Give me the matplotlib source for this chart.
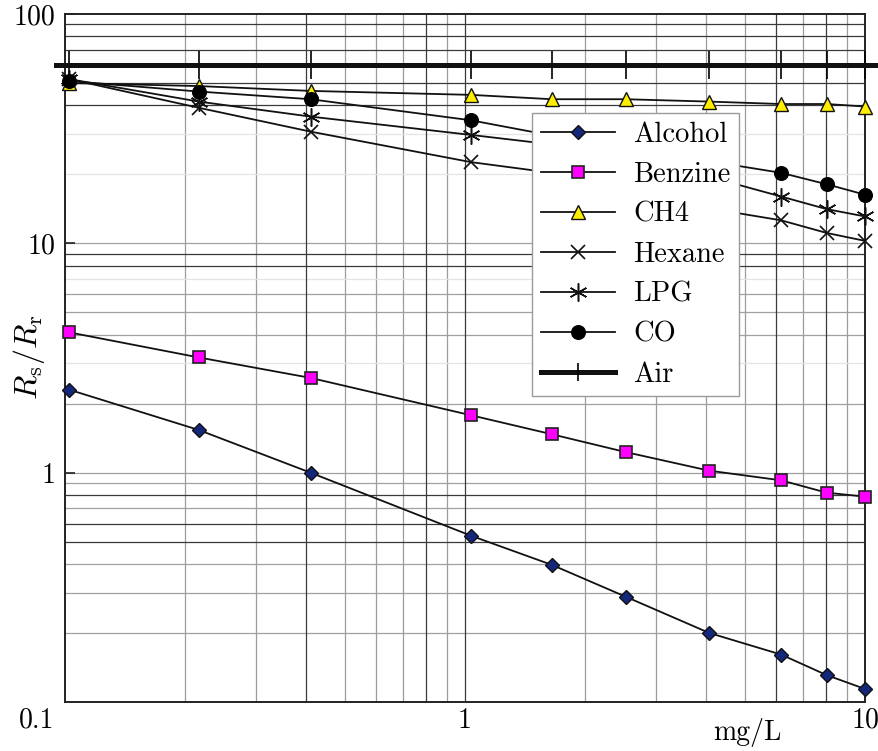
import matplotlib
matplotlib.use("Agg")
import matplotlib.pyplot as plt
import matplotlib.transforms as mtransforms

plt.rcParams["font.family"] = ["cmr10", "DejaVu Serif"]
plt.rcParams["mathtext.fontset"] = "cm"
plt.rcParams["axes.unicode_minus"] = False
plt.rcParams["axes.formatter.use_mathtext"] = True

# Gas concentration (mg/L) and sensor resistance ratio Rs/Rr per gas
conc = [0.1025, 0.216, 0.411, 1.035, 1.65, 2.52, 4.08, 6.17, 8.02, 10.0]
alcohol = [2.30, 1.535, 1.00, 0.531, 0.396, 0.288, 0.200, 0.161, 0.131, 0.114]
benzine = [4.09, 3.18, 2.59, 1.78, 1.47, 1.23, 1.02, 0.926, 0.818, 0.786]
ch4 = [50.0, 48.5, 46.2, 44.4, 42.5, 42.5, 41.5, 40.5, 40.5, 39.5]
hexane = [52.0, 39.0, 30.7, 22.6, 20.3, 17.5, 14.2, 12.6, 11.1, 10.25]
lpg = [52.0, 41.5, 35.7, 29.7, 27.0, 23.5, 19.5, 16.0, 14.1, 13.1]
co = [51.0, 45.9, 42.5, 34.4, 29.5, 26.0, 22.8, 20.3, 18.1, 16.3]
air = [60.0, 60.0, 60.0, 60.0, 60.0, 60.0, 60.0, 60.0, 60.0, 60.0]

series_names = ["Alcohol", "Benzine", "CH4", "Hexane", "LPG", "CO", "Air"]
series_values = [alcohol, benzine, ch4, hexane, lpg, co, air]

x_ticks = [0.1, 1, 10]
x_ticklabels = ["0.1", "1", "10"]
y_ticks = [1, 10, 100]
y_ticklabels = ["1", "10", "100"]

# log-paper grid
xgrid_dark = [0.4, 0.8, 1, 6, 8]
xgrid_grey = [0.2, 0.3, 0.5, 0.6, 0.7, 0.9, 2, 3, 4, 5, 7, 9]
ygrid_dark = [90, 80, 70, 50, 40, 9, 8, 0.8, 0.6, 0.5]
ygrid_grey = [10, 6, 5, 4, 2, 1, 0.9, 0.7, 0.4, 0.3, 0.2]
ygrid_faint = [30, 20, 7, 3]

styles = {
    "Alcohol": dict(marker="D", ms=7.2, mfc="#13287a", mec="#111111", mew=1.0),
    "Benzine": dict(marker="s", ms=8.8, mfc="#ff00ff", mec="#222222", mew=1.2),
    "CH4": dict(marker="^", ms=9.8, mfc="#ffee00", mec="#111111", mew=1.0),
    "Hexane": dict(marker="x", ms=10, mfc="none", mec="#111111", mew=1.2),
    "LPG": dict(marker=(6, 2, 0), ms=13, mfc="none", mec="#111111", mew=1.1),
    "CO": dict(marker="o", ms=9.8, mfc="#000000", mec="#000000", mew=1.0),
    "Air": dict(marker="|", ms=20, mfc="#000000", mec="#000000", mew=1.2),
}

fig = plt.figure(figsize=(8.79, 7.51), dpi=100)
ax = fig.add_axes([65 / 879, 49 / 751, 800 / 879, 688 / 751])
ax.set_xscale("log")
ax.set_yscale("log")
ax.set_xlim(0.1, 10)
ax.set_ylim(0.1, 100)

for v in xgrid_grey:
    ax.axvline(v, color="#9c9c9c", lw=0.9, zorder=1)
for v in xgrid_dark:
    ax.axvline(v, color="#3a3a3a", lw=0.9, zorder=1.1)
for v in ygrid_faint:
    ax.axhline(v, color="#e4e4e4", lw=0.9, zorder=1)
for v in ygrid_grey:
    ax.axhline(v, color="#a0a0a0", lw=0.9, zorder=1)
for v in ygrid_dark:
    ax.axhline(v, color="#3a3a3a", lw=0.9, zorder=1.1)

for name, vals in zip(series_names, series_values):
    st = styles[name]
    lw = 3.6 if name == "Air" else 1.3
    ax.plot(conc, vals, color="#111111", lw=lw, label=name,
            clip_on=False, zorder=3, **st)

# reference (air) line runs slightly past both frame edges
ax.plot([conc[0] * 0.926, conc[-1] * 1.1], [air[0], air[-1]],
        color="#111111", lw=3.6, clip_on=False, zorder=3)

for sp in ax.spines.values():
    sp.set_linewidth(1.4)
    sp.set_color("#222222")
    sp.set_zorder(2.5)

ax.set_xticks(x_ticks)
ax.set_xticklabels(x_ticklabels)
ax.set_yticks(y_ticks)
ax.set_yticklabels(y_ticklabels)
ax.minorticks_off()
ax.tick_params(axis="x", length=0, pad=4, labelsize=20)
ax.tick_params(axis="y", direction="in", length=7, width=1.2, color="#222222",
               pad=7, labelsize=20)

lab0 = ax.get_xticklabels()[0]
lab0.set_horizontalalignment("right")
lab0.set_transform(lab0.get_transform() +
                   mtransforms.ScaledTranslation(-11 / 100, 0, fig.dpi_scale_trans))

ax.set_xlabel("mg/L", fontsize=20)
ax.xaxis.set_label_coords(0.8525, -0.023)
ax.set_ylabel(r"$R_{\mathrm{s}}/R_{\mathrm{r}}$", fontsize=23, va="center")
ax.yaxis.set_label_coords(-0.045, 0.5015)

leg = ax.legend(loc="upper left", bbox_to_anchor=(0.584, 0.856),
                borderaxespad=0, fontsize=20.5, frameon=True, fancybox=False,
                edgecolor="#9a9a9a", framealpha=1, handlelength=2.6,
                handletextpad=0.65, labelspacing=0.48, borderpad=0.3)
leg.get_frame().set_linewidth(1.0)
leg.set_zorder(5)
leg.legend_handles[-1].set_markersize(13)

fig.savefig("out.png", dpi=100)
